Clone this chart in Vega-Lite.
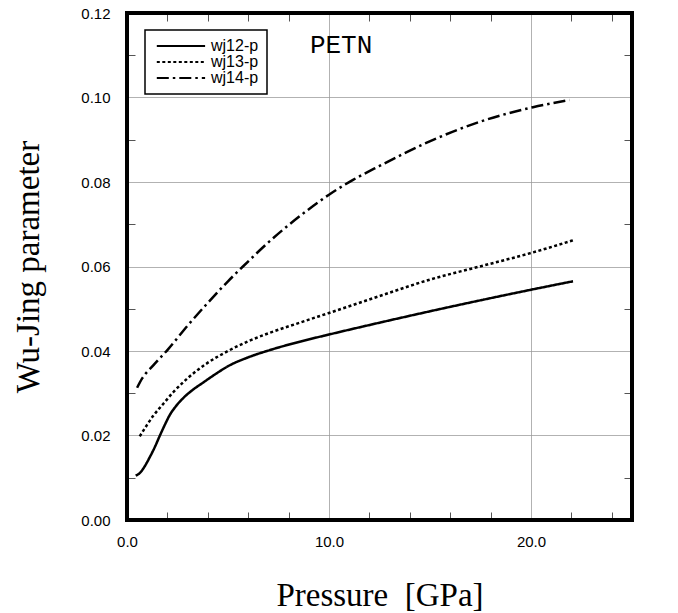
{
  "$schema": "https://vega.github.io/schema/vega-lite/v6.json",
  "width": 505,
  "height": 507,
  "autosize": {"type": "none"},
  "padding": {"left": 127, "top": 13, "right": 46, "bottom": 93},
  "background": "white",
  "config": {
    "view": {"stroke": null},
    "legend": {"strokeWidth": 1.5}
  },
  "datasets": {
    "curves": [
      {"series": "wj12-p", "pressure": 0.43, "wj": 0.0105},
      {"series": "wj12-p", "pressure": 0.63, "wj": 0.0111},
      {"series": "wj12-p", "pressure": 0.85, "wj": 0.0125},
      {"series": "wj12-p", "pressure": 1.12, "wj": 0.0148},
      {"series": "wj12-p", "pressure": 1.4, "wj": 0.0175},
      {"series": "wj12-p", "pressure": 1.62, "wj": 0.0199},
      {"series": "wj12-p", "pressure": 1.9, "wj": 0.0228},
      {"series": "wj12-p", "pressure": 2.11, "wj": 0.0248},
      {"series": "wj12-p", "pressure": 2.4, "wj": 0.0268},
      {"series": "wj12-p", "pressure": 2.77, "wj": 0.0288},
      {"series": "wj12-p", "pressure": 3.2, "wj": 0.0306},
      {"series": "wj12-p", "pressure": 3.76, "wj": 0.0325},
      {"series": "wj12-p", "pressure": 4.4, "wj": 0.0346},
      {"series": "wj12-p", "pressure": 5.0, "wj": 0.0364},
      {"series": "wj12-p", "pressure": 6.0, "wj": 0.0385},
      {"series": "wj12-p", "pressure": 7.06, "wj": 0.0402},
      {"series": "wj12-p", "pressure": 8.55, "wj": 0.0422},
      {"series": "wj12-p", "pressure": 10.0, "wj": 0.0439},
      {"series": "wj12-p", "pressure": 12.5, "wj": 0.0467},
      {"series": "wj12-p", "pressure": 15.0, "wj": 0.0494},
      {"series": "wj12-p", "pressure": 17.5, "wj": 0.052},
      {"series": "wj12-p", "pressure": 20.0, "wj": 0.0545},
      {"series": "wj12-p", "pressure": 22.08, "wj": 0.0565},
      {"series": "wj13-p", "pressure": 0.63, "wj": 0.0198},
      {"series": "wj13-p", "pressure": 0.95, "wj": 0.0222},
      {"series": "wj13-p", "pressure": 1.29, "wj": 0.0246},
      {"series": "wj13-p", "pressure": 1.78, "wj": 0.0274},
      {"series": "wj13-p", "pressure": 2.3, "wj": 0.0303},
      {"series": "wj13-p", "pressure": 2.94, "wj": 0.0333},
      {"series": "wj13-p", "pressure": 3.93, "wj": 0.037},
      {"series": "wj13-p", "pressure": 5.0, "wj": 0.04},
      {"series": "wj13-p", "pressure": 6.0, "wj": 0.0423},
      {"series": "wj13-p", "pressure": 7.06, "wj": 0.0443},
      {"series": "wj13-p", "pressure": 8.55, "wj": 0.0467},
      {"series": "wj13-p", "pressure": 10.0, "wj": 0.049},
      {"series": "wj13-p", "pressure": 12.5, "wj": 0.053},
      {"series": "wj13-p", "pressure": 15.0, "wj": 0.0569},
      {"series": "wj13-p", "pressure": 17.46, "wj": 0.06},
      {"series": "wj13-p", "pressure": 20.0, "wj": 0.0632},
      {"series": "wj13-p", "pressure": 22.08, "wj": 0.0662},
      {"series": "wj14-p", "pressure": 0.5, "wj": 0.0313},
      {"series": "wj14-p", "pressure": 0.75, "wj": 0.0335},
      {"series": "wj14-p", "pressure": 1.3, "wj": 0.0366},
      {"series": "wj14-p", "pressure": 2.03, "wj": 0.0404},
      {"series": "wj14-p", "pressure": 3.0, "wj": 0.046},
      {"series": "wj14-p", "pressure": 4.0, "wj": 0.0514},
      {"series": "wj14-p", "pressure": 5.0, "wj": 0.0565},
      {"series": "wj14-p", "pressure": 5.74, "wj": 0.06},
      {"series": "wj14-p", "pressure": 7.23, "wj": 0.0667},
      {"series": "wj14-p", "pressure": 8.55, "wj": 0.0719},
      {"series": "wj14-p", "pressure": 10.0, "wj": 0.077},
      {"series": "wj14-p", "pressure": 11.19, "wj": 0.0805},
      {"series": "wj14-p", "pressure": 12.5, "wj": 0.0838},
      {"series": "wj14-p", "pressure": 15.07, "wj": 0.0898},
      {"series": "wj14-p", "pressure": 17.5, "wj": 0.0943},
      {"series": "wj14-p", "pressure": 20.1, "wj": 0.0977},
      {"series": "wj14-p", "pressure": 21.9, "wj": 0.0994}
    ],
    "label": [{"pressure": 10.6, "wj": 0.1125, "text": "PETN"}],
    "frame": [{"pressure": 0, "pressure2": 25, "wj": 0, "wj2": 0.12}]
  },
  "layer": [
    {
      "data": {"name": "curves"},
      "mark": {"type": "line", "stroke": "black", "strokeWidth": 2.5, "interpolate": "monotone"},
      "encoding": {
        "x": {
          "field": "pressure", "type": "quantitative",
          "scale": {"domain": [0, 25], "nice": false, "zero": false},
          "axis": {
            "orient": "bottom",
            "values": [0,1,2,3,4,5,6,7,8,9,10,11,12,13,14,15,16,17,18,19,20,21,22,23,24,25],
            "labelExpr": "datum.value % 5 === 0 ? format(datum.value, '.1f') : ''",
            "title": "Pressure\u00a0 [GPa]",
            "titleFont": "Liberation Serif", "titleFontSize": 33, "titleFontWeight": "normal", "titleColor": "black",
            "titlePadding": 30,
            "labelFont": "Liberation Sans", "labelFontSize": 15, "labelColor": "black",
            "labelPadding": 14, "labelFlush": false, "labelOverlap": false, "labelBound": false,
            "domain": false,
            "ticks": false,
            "grid": true,
            "gridColor": {"condition": {"test": "datum.value % 5 === 0", "value": "#999999"}, "value": "#555555"},
            "gridDash": {"condition": {"test": "datum.value % 5 === 0", "value": [1, 0]}, "value": [8, 491, 8, 1000]},
            "gridWidth": 1
          }
        },
        "y": {
          "field": "wj", "type": "quantitative",
          "scale": {"domain": [0, 0.12], "nice": false},
          "axis": {
            "orient": "left",
            "values": [0,0.005,0.01,0.015,0.02,0.025,0.03,0.035,0.04,0.045,0.05,0.055,0.06,0.065,0.07,0.075,0.08,0.085,0.09,0.095,0.1,0.105,0.11,0.115,0.12],
            "labelExpr": "round(datum.value * 1000) % 20 === 0 ? format(datum.value, '.2f') : ''",
            "title": "Wu-Jing parameter",
            "titleFont": "Liberation Serif", "titleFontSize": 33, "titleFontWeight": "normal", "titleColor": "black",
            "titlePadding": 35,
            "labelFont": "Liberation Sans", "labelFontSize": 15, "labelColor": "black",
            "labelPadding": 17, "labelFlush": false, "labelOverlap": false, "labelBound": false,
            "domain": false,
            "ticks": false,
            "grid": true,
            "gridColor": {"condition": {"test": "round(datum.value * 1000) % 20 === 0", "value": "#999999"}, "value": "#555555"},
            "gridDash": {"condition": {"test": "round(datum.value * 1000) % 20 === 0", "value": [1, 0]}, "value": [8, 489, 8, 1000]},
            "gridWidth": 1
          }
        },
        "strokeDash": {
          "field": "series", "type": "nominal",
          "scale": {"domain": ["wj12-p", "wj13-p", "wj14-p"], "range": [[1, 0], [3, 2.5], [12, 4, 2.5, 4]]},
          "legend": {
            "orient": "none", "legendX": 18, "legendY": 17,
            "title": null,
            "symbolType": "M-0.6,0H6.3", "symbolSize": 196,
            "symbolStrokeWidth": 2, "symbolStrokeColor": "black", "symbolFillColor": "transparent",
            "labelFont": "Liberation Sans", "labelFontSize": 16, "labelColor": "black",
            "labelOffset": 42,
            "strokeColor": "black", "fillColor": "white",
            "padding": 8, "rowPadding": 0, "cornerRadius": 0
          }
        }
      }
    },
    {
      "data": {"name": "label"},
      "mark": {"type": "text", "font": "Liberation Mono", "fontSize": 26, "color": "black", "baseline": "middle", "align": "center"},
      "encoding": {
        "x": {"field": "pressure", "type": "quantitative"},
        "y": {"field": "wj", "type": "quantitative"},
        "text": {"field": "text"}
      }
    },
    {
      "data": {"name": "frame"},
      "mark": {"type": "rect", "fill": null, "stroke": "black", "strokeWidth": 4},
      "encoding": {
        "x": {"field": "pressure", "type": "quantitative"},
        "x2": {"field": "pressure2"},
        "y": {"field": "wj", "type": "quantitative"},
        "y2": {"field": "wj2"}
      }
    }
  ]
}
